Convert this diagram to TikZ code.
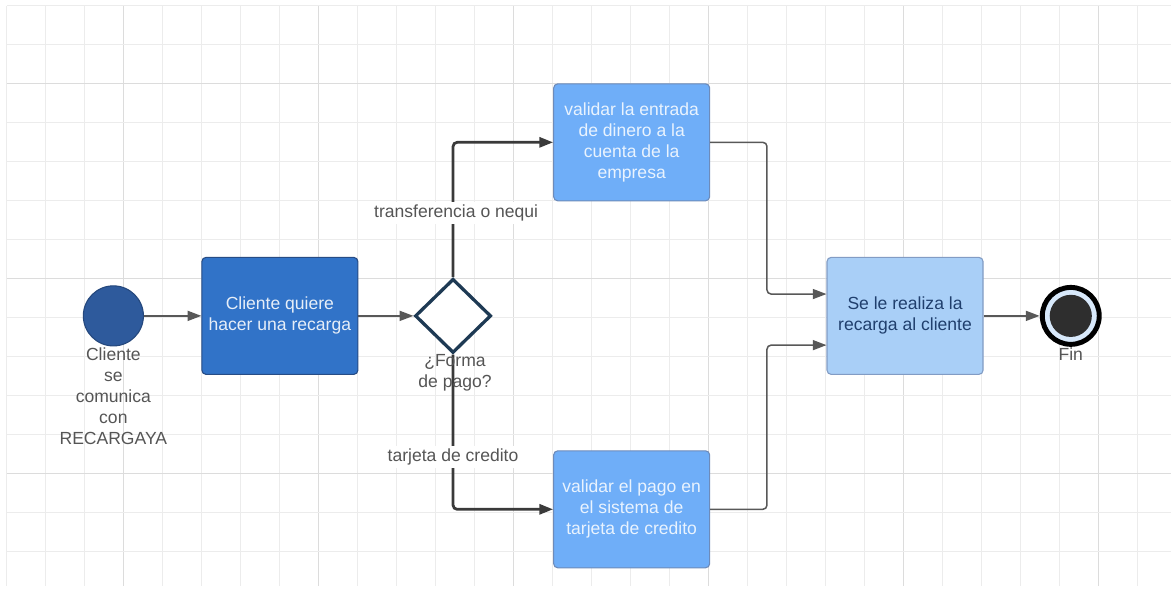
\documentclass[tikz,border=0pt]{standalone}
\usepackage{fontspec}
\setmainfont{Liberation Sans}
\usetikzlibrary{arrows.meta, positioning, calc, shapes.geometric}
\definecolor{c1}{HTML}{3A3A3A}
\definecolor{c2}{HTML}{2E5A9C}
\definecolor{c3}{HTML}{3173C8}
\definecolor{c4}{HTML}{6FAEF8}
\definecolor{c5}{HTML}{A9CFF7}
\definecolor{c6}{HTML}{1E3A54}
\definecolor{gridminor}{HTML}{ECECEC}
\definecolor{gridmajor}{HTML}{DCDCDC}
\definecolor{labelcolor}{HTML}{555555}

\begin{document}
\begin{tikzpicture}[
    every node/.style={font=\fontsize{12.8}{15.3}\selectfont},
    lab/.style={text=labelcolor, align=center, inner sep=1pt},
    tag/.style={text=labelcolor, fill=white, inner sep=2pt},
    startev/.style={circle, draw=c2!80!black, fill=c2, line width=0.8pt,
                    minimum size=1.54cm, inner sep=0pt},
    task/.style={rectangle, rounded corners=3pt, line width=0.8pt,
                 minimum width=4.0cm, minimum height=3.0cm, align=center,
                 inner sep=2pt},
    darktask/.style={task, draw=c2!85!black, fill=c3, text=white!88!c3},
    midtask/.style={task, draw=c2!70, fill=c4, text=white!85!c4},
    lighttask/.style={task, draw=c2!60, fill=c5, text=c2!70!black},
    gate/.style={diamond, draw=c6, fill=white, line width=2.4pt,
                 minimum width=1.95cm, minimum height=1.9cm, inner sep=0pt,
                 aspect=1},
    link/.style={-{Triangle[length=10pt, width=7.3pt]}, line width=1.1pt,
                 color=c1!85, rounded corners=3pt},
    branch/.style={-{Triangle[length=10pt, width=7.3pt]}, line width=2pt,
                   color=c1, rounded corners=3pt},
]

\useasboundingbox (-0.167, 0) rectangle (29.86, 15.15);
\fill[white] (-0.167, 0) rectangle (29.86, 15.15);

% grid
\foreach \gx in {0,...,29} {
  \pgfmathsetmacro{\gcol}{ifthenelse(mod(\gx+2,5)==0, 1, 0)}
  \ifdim\gcol pt>0.5pt
    \draw[gridmajor, line width=0.7pt] (\gx, 0.13) -- (\gx, 15.0);
  \else
    \draw[gridminor, line width=0.7pt] (\gx, 0.13) -- (\gx, 15.0);
  \fi
}
\foreach \gy in {1,...,15} {
  \pgfmathsetmacro{\gcol}{ifthenelse(mod(\gy,5)==3, 1, 0)}
  \ifdim\gcol pt>0.5pt
    \draw[gridmajor, line width=0.7pt] (0, \gy) -- (29.86, \gy);
  \else
    \draw[gridminor, line width=0.7pt] (0, \gy) -- (29.86, \gy);
  \fi
}

% ================================================================ main row
\node[startev] (start) at (2.74, 7.05) {};
\node[lab, below=0pt of start] (startlab)
     {Cliente\\ se\\ comunica\\ con\\ RECARGAYA};

\node[darktask] (ask) at (7.01, 7.05) {Cliente quiere\\ hacer una recarga};

\node[gate] (pay) at (11.45, 7.05) {};

\node[lighttask] (serve) at (23.04, 7.05) {Se le realiza la\\ recarga al cliente};

\draw[black, line width=3.6pt, fill=c5!45] (27.29, 7.05) circle (0.73);
\node[circle, fill=c1!80!black, minimum size=1.08cm, inner sep=0pt]
     (fin) at (27.29, 7.05) {};
\coordinate (finw) at (26.49, 7.05);
\node[lab] (finlab) at (27.29, 6.07) {Fin};

% ============================================================ the branches
\node[midtask] (transfer) at (16.03, 11.5)
     {validar la entrada\\ de dinero a la\\ cuenta de la\\ empresa};
\node[midtask] (card) at (16.03, 2.09)
     {validar el pago en\\ el sistema de\\ tarjeta de credito};

\coordinate (mx) at (19.5, 0);

\draw[link] (start) -- (ask);
\draw[link] (ask) -- (pay);

\draw[branch] (pay.north) |- (transfer.west);
\draw[branch] (pay.south) |- (card.west);

\draw[link] (transfer.east) -- (transfer.east -| mx) |- ([yshift=0.56cm]serve.west);
\draw[link] (card.east) -- (card.east -| mx) |- ([yshift=-0.75cm]serve.west);

\draw[link] (serve) -- (finw);

\node[tag] (paytop) at (11.53, 9.69) {transferencia o nequi};
\node[tag] (paybot) at (11.45, 3.44) {tarjeta de credito};
\node[lab] (paylab) at (11.5, 5.6) {¿Forma\\ de pago?};

\end{tikzpicture}
\end{document}
